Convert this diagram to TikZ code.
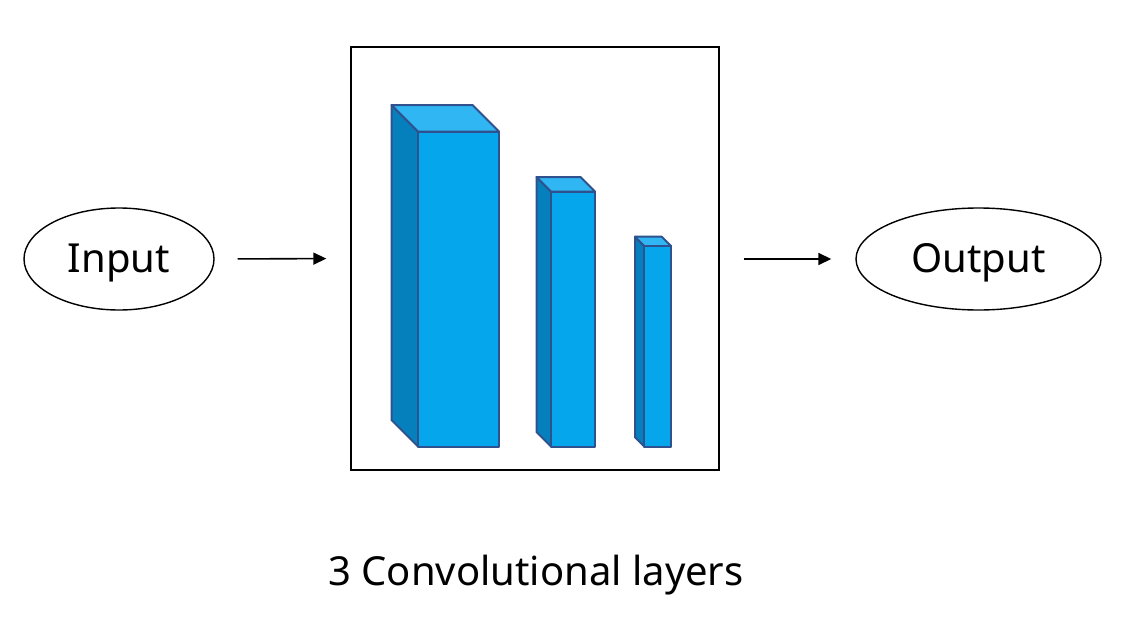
\documentclass[tikz,border=0pt]{standalone}
\usepackage{fontspec}
\setmainfont{Noto Sans}
\usetikzlibrary{arrows.meta,shapes.geometric}
\definecolor{cfront}{RGB}{5,166,236}
\definecolor{ctop}{RGB}{48,182,242}
\definecolor{cside}{RGB}{5,128,188}
\definecolor{cedge}{RGB}{47,82,143}
\tikzset{
  oval/.style={draw=black, line width=1.4pt, ellipse, inner sep=0pt},
  frame/.style={draw=black, line width=1.4pt},
  conn/.style={line width=1.6pt, -{Triangle[length=13pt,width=12pt]}},
  face/.style={draw=cedge, line width=2pt, line join=round},
  lbl/.style={font=\fontsize{40}{48}\selectfont, inner sep=0pt}
}
\newcommand{\cuboid}[5]{% x0 y0(front top-left), x1 (front right), y1 (bottom), d depth
  \fill[cside,face] (#1,#2) -- (#1-#5,#2-#5) -- (#1-#5,#4-#5) -- (#1,#4) -- cycle;
  \fill[ctop,face] (#1,#2) -- (#1-#5,#2-#5) -- (#3-#5,#2-#5) -- (#3,#2) -- cycle;
  \fill[cfront,face] (#1,#2) rectangle (#3,#4);
}
\begin{document}
\begin{tikzpicture}[x=1pt,y=-1pt]
\useasboundingbox (0,0) rectangle (1134,626);
\fill[white] (0,0) rectangle (1134,626);
\node[oval, minimum width=190pt, minimum height=102pt] (in) at (119,259) {};
\node[lbl] at ([yshift=-4pt]in.center) {Input};
\node[oval, minimum width=245pt, minimum height=102pt] (out) at (978.5,259) {};
\node[lbl] at ([yshift=-4pt]out.center) {Output};
\node[frame, minimum width=368pt, minimum height=423pt, inner sep=0pt] (box) at (535,258.5) {};
\cuboid{418}{131.5}{499}{446.5}{26.5}
\cuboid{551}{191.5}{595}{446.5}{14.5}
\cuboid{644.3}{246}{671}{446.5}{9.3}
\draw[conn, shorten <=23pt, shorten >=24pt] (in.east) -- (box.west);
\draw[conn, shorten <=24pt, shorten >=24pt] (box.east |- out.west) -- (out.west);
\node[lbl] (cap) at (536,575) {3 Convolutional layers};
\end{tikzpicture}
\end{document}
